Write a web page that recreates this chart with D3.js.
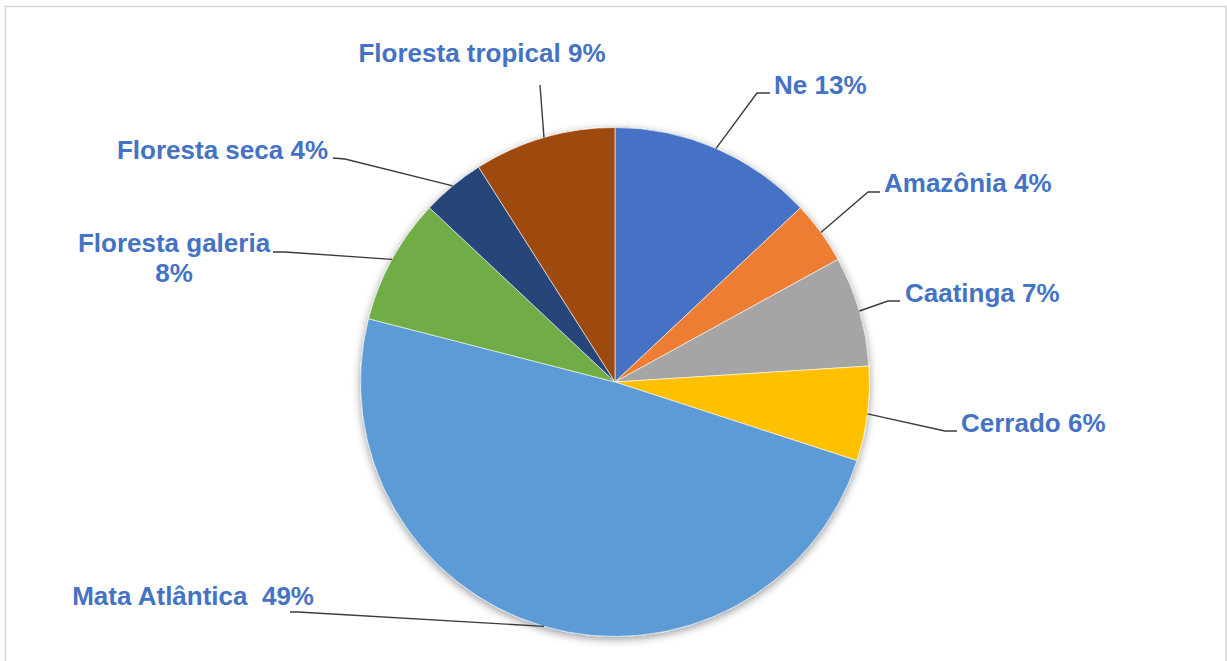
<!DOCTYPE html>
<html>
<head>
<meta charset="utf-8">
<script src="https://cdn.jsdelivr.net/npm/d3@7"></script>
<style>
  html, body { margin: 0; padding: 0; background: #fff; }
  svg { display: block; }
  .lbl { font-family: "Liberation Sans", Arial, sans-serif; font-weight: bold; font-size: 26px; fill: #4472C4; white-space: pre; }
</style>
</head>
<body>
<svg id="chart" width="1227" height="661"></svg>
<script>
// Biome shares (%), clockwise from 12 o'clock
const categories = ["Ne", "Amazônia", "Caatinga", "Cerrado", "Mata Atlântica", "Floresta galeria", "Floresta seca", "Floresta tropical"];
const values = [13, 4, 7, 6, 49, 8, 4, 9];
const labelTexts = [["Ne 13%"], ["Amazônia 4%"], ["Caatinga 7%"], ["Cerrado 6%"], ["Mata Atlântica  49%"], ["Floresta galeria", "8%"], ["Floresta seca 4%"], ["Floresta tropical 9%"]];
const colors = ["#4472C4", "#ED7D31", "#A5A5A5", "#FFC000", "#5B9BD5", "#70AD47", "#264478", "#9E480E"];

const W = 1227, H = 661;
const cx = 615, cy = 382, R = 254.5;

// Label placement: text anchor point, leader-line elbow and leader end next to the text
const labelLayout = [
  { x: 774, y: 94,  anchor: "start",  elbow: [757, 93],  end: [770, 93] },
  { x: 884, y: 192, anchor: "start",  elbow: [868, 192], end: [880, 192] },
  { x: 905, y: 302, anchor: "start",  elbow: [888, 301], end: [900, 301] },
  { x: 961, y: 432, anchor: "start",  elbow: [945, 431], end: [957, 431] },
  { x: 314, y: 605, anchor: "end",    elbow: [298, 612], end: [290, 612] },
  { x: 174, y: 252, anchor: "middle", elbow: [285, 252], end: [273, 252], lineGap: 30 },
  { x: 328, y: 159, anchor: "end",    elbow: [345, 159], end: [333, 158] },
  { x: 482, y: 62,  anchor: "middle", elbow: [540, 85],  end: [540, 85] }
];

const svg = d3.select("#chart");

// Outer chart-area frame
svg.append("rect")
  .attr("x", 5.5).attr("y", 6.5)
  .attr("width", 1220.5).attr("height", 700)
  .attr("fill", "#fff")
  .attr("stroke", "#d9d9d9")
  .attr("stroke-width", 1.6);

// Soft shadow around the pie
const defs = svg.append("defs");
const f = defs.append("filter").attr("id", "pieShadow")
  .attr("x", "-10%").attr("y", "-10%").attr("width", "120%").attr("height", "120%");
f.append("feDropShadow")
  .attr("dx", 0).attr("dy", 2.5)
  .attr("stdDeviation", 4.5)
  .attr("flood-color", "#000")
  .attr("flood-opacity", 0.4);

const pie = d3.pie().sort(null).value(d => d)(values);
const arc = d3.arc().innerRadius(0).outerRadius(R);

const g = svg.append("g").attr("transform", `translate(${cx},${cy})`);
const slices = g.append("g").attr("filter", "url(#pieShadow)");
slices.selectAll("path")
  .data(pie)
  .join("path")
  .attr("d", arc)
  .attr("fill", (d, i) => colors[i])
  .attr("stroke", "#fff")
  .attr("stroke-width", 0.6)
  .attr("stroke-linejoin", "round");

// Leader lines from each slice's mid-angle on the rim
const line = d3.line();
pie.forEach((d, i) => {
  const a = (d.startAngle + d.endAngle) / 2;
  const p0 = [cx + R * Math.sin(a), cy - R * Math.cos(a)];
  const L = labelLayout[i];
  svg.append("path")
    .attr("d", line([p0, L.elbow, L.end]))
    .attr("fill", "none")
    .attr("stroke", "#3b3b3b")
    .attr("stroke-width", 1.4);
});

// Labels
labelTexts.forEach((lines, i) => {
  const L = labelLayout[i];
  const t = svg.append("text")
    .attr("class", "lbl")
    .attr("text-anchor", L.anchor)
    .attr("x", L.x).attr("y", L.y);
  lines.forEach((s, k) => {
    t.append("tspan")
      .attr("x", L.x)
      .attr("dy", k === 0 ? 0 : (L.lineGap || 30))
      .text(s);
  });
});
</script>
</body>
</html>
